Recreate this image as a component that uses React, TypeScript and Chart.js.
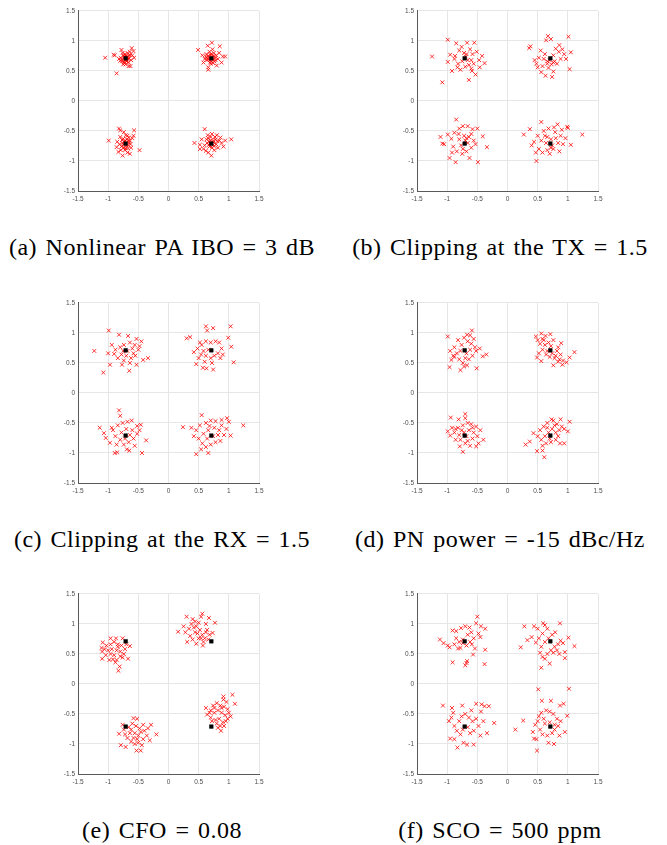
import React, { useEffect, useRef } from "react";
import { Chart, registerables } from "chart.js";

Chart.register(...registerables);

// ---- axis ticks ----
const tickValues: number[] = [-1.5, -1, -0.5, 0, 0.5, 1, 1.5];
const tickLabels: string[] = ["-1.5", "-1", "-0.5", "0", "0.5", "1", "1.5"];

// ---- ideal QPSK constellation (black squares) ----
const idealPoints: number[][] = [
  [-0.71, 0.71], [0.71, 0.71], [-0.71, -0.71], [0.71, -0.71],
];

// ---- captions ----
const captions: string[] = [
  "(a) Nonlinear PA IBO = 3 dB",
  "(b) Clipping at the TX = 1.5",
  "(c) Clipping at the RX = 1.5",
  "(d) PN power = -15 dBc/Hz",
  "(e) CFO = 0.08",
  "(f) SCO = 500 ppm",
];

// ---- received symbols (red crosses), one array per panel ----
const pointsA: number[][] = [
  [-1.05,0.72],[-0.86,0.46],[-0.91,0.77],[-0.89,0.76],[-0.78,0.85],[-0.61,0.88],[-0.58,0.83],[-0.57,0.72],[-0.63,0.58],[-0.66,0.58],
  [-0.75,0.61],[-0.80,0.67],[-0.76,0.80],[-0.72,0.78],[-0.68,0.80],[-0.65,0.75],[-0.70,0.66],[-0.73,0.72],[-0.67,0.69],[-0.74,0.65],
  [-0.62,0.68],[-0.79,0.72],[-0.69,0.74],[-0.75,0.76],[-0.66,0.64],[-0.71,0.61],[-0.82,0.70],[-0.60,0.76],[-0.77,0.69],[-0.64,0.82],
  [-0.70,0.70],[-0.72,0.68],[-0.68,0.73],[-0.74,0.74],[-0.66,0.71],[-0.71,0.75],[-0.69,0.67],[-0.77,0.66],[-0.64,0.77],[-0.73,0.63],
  [0.49,0.85],[0.65,0.92],[0.72,0.97],[0.85,0.91],[0.94,0.74],[0.90,0.74],[0.88,0.64],[0.80,0.59],[0.66,0.52],[0.66,0.56],
  [0.58,0.64],[0.60,0.70],[0.63,0.78],[0.68,0.82],[0.75,0.80],[0.79,0.76],[0.82,0.70],[0.76,0.66],[0.70,0.62],[0.64,0.68],
  [0.72,0.74],[0.67,0.72],[0.74,0.69],[0.69,0.77],[0.77,0.72],[0.62,0.74],[0.71,0.66],[0.84,0.80],[0.56,0.76],[0.73,0.86],
  [0.70,0.70],[0.68,0.68],[0.73,0.72],[0.66,0.75],[0.75,0.75],[0.71,0.78],[0.69,0.64],[0.78,0.68],[0.64,0.71],[0.74,0.63],
  [-0.99,-0.66],[-0.82,-0.46],[-0.80,-0.49],[-0.74,-0.52],[-0.57,-0.49],[-0.58,-0.58],[-0.60,-0.62],[-0.48,-0.82],[-0.64,-0.88],[-0.76,-0.91],
  [-0.83,-0.85],[-0.86,-0.77],[-0.85,-0.68],[-0.80,-0.60],[-0.75,-0.63],[-0.68,-0.58],[-0.66,-0.66],[-0.63,-0.72],[-0.67,-0.79],[-0.72,-0.82],
  [-0.78,-0.76],[-0.73,-0.68],[-0.70,-0.74],[-0.76,-0.70],[-0.69,-0.64],[-0.62,-0.78],[-0.79,-0.82],[-0.71,-0.57],[-0.65,-0.70],[-0.81,-0.72],
  [-0.74,-0.78],[-0.68,-0.86],[-0.70,-0.70],[-0.72,-0.66],[-0.67,-0.74],[-0.75,-0.73],[-0.64,-0.66],[-0.77,-0.65],[-0.71,-0.79],[-0.66,-0.61],
  [0.43,-0.70],[0.60,-0.47],[1.04,-0.64],[0.91,-0.76],[0.71,-0.91],[0.62,-0.83],[0.58,-0.80],[0.52,-0.73],[0.55,-0.64],[0.65,-0.57],
  [0.72,-0.55],[0.80,-0.57],[0.86,-0.61],[0.88,-0.70],[0.82,-0.78],[0.76,-0.82],[0.68,-0.76],[0.64,-0.70],[0.70,-0.66],[0.75,-0.69],
  [0.78,-0.64],[0.66,-0.62],[0.73,-0.74],[0.69,-0.70],[0.60,-0.74],[0.84,-0.66],[0.77,-0.60],[0.66,-0.86],[0.52,-0.80],[0.94,-0.66],
  [0.71,-0.71],[0.68,-0.67],[0.74,-0.66],[0.67,-0.73],[0.72,-0.78],[0.79,-0.72],[0.63,-0.64],[0.76,-0.75],[0.70,-0.60],[0.81,-0.67],
];

const pointsB: number[][] = [
  [-1.25,0.74],[-1.08,0.31],[-0.99,1.02],[-0.85,0.96],[-0.67,0.97],[-0.55,0.97],[-0.42,0.75],[-0.38,0.63],[-0.53,0.44],[-0.64,0.35],
  [-0.92,0.50],[-0.99,0.65],[-0.95,0.77],[-0.87,0.75],[-0.80,0.84],[-0.72,0.80],[-0.62,0.86],[-0.58,0.78],[-0.66,0.68],[-0.75,0.66],
  [-0.82,0.62],[-0.78,0.52],[-0.70,0.57],[-0.60,0.54],[-0.56,0.62],[-0.47,0.68],[-0.51,0.82],[-0.88,0.70],[-0.69,0.74],[-0.59,0.50],
  [-0.46,0.56],[-0.76,0.90],[-0.64,0.60],[-0.83,0.56],[-0.68,0.78],[-0.60,0.68],
  [0.36,0.88],[0.38,0.91],[0.64,1.01],[0.67,1.08],[0.72,1.03],[1.01,1.07],[1.05,0.81],[1.03,0.53],[0.76,0.49],[0.74,0.40],
  [0.63,0.42],[0.56,0.48],[0.48,0.62],[0.45,0.68],[0.55,0.84],[0.91,0.86],[0.85,0.82],[0.80,0.87],[0.76,0.76],[0.70,0.68],
  [0.66,0.62],[0.60,0.70],[0.52,0.72],[0.58,0.58],[0.68,0.55],[0.82,0.62],[0.88,0.70],[0.94,0.78],[0.78,0.66],[0.62,0.78],
  [0.50,0.56],[0.73,0.61],[0.86,0.93],[0.97,0.70],[0.66,0.66],[0.76,0.64],
  [-0.85,-0.31],[-1.11,-0.60],[-1.08,-0.71],[-1.05,-0.72],[-0.99,-0.56],[-0.96,-0.95],[-0.86,-1.02],[-0.63,-0.95],[-0.49,-1.02],[-0.34,-0.77],
  [-0.41,-0.59],[-0.50,-0.46],[-0.58,-0.47],[-0.66,-0.42],[-0.74,-0.42],[-0.80,-0.46],[-0.88,-0.53],[-0.93,-0.63],[-0.90,-0.76],[-0.84,-0.84],
  [-0.75,-0.88],[-0.68,-0.84],[-0.60,-0.78],[-0.56,-0.66],[-0.64,-0.60],[-0.72,-0.58],[-0.80,-0.64],[-0.77,-0.74],[-0.66,-0.70],[-0.70,-0.66],
  [-0.60,-0.55],[-0.53,-0.72],[-0.92,-0.86],[-0.81,-0.55],[-0.74,-0.80],[-0.68,-0.62],
  [0.27,-0.56],[0.37,-0.47],[0.56,-0.35],[0.48,-1.00],[1.05,-0.73],[1.24,-0.56],[0.99,-0.43],[1.00,-0.45],[0.83,-0.39],[0.77,-0.44],
  [0.68,-0.46],[0.60,-0.50],[0.50,-0.58],[0.44,-0.68],[0.40,-0.74],[0.52,-0.80],[0.58,-0.86],[0.66,-0.82],[0.76,-0.80],[0.86,-0.84],
  [0.92,-0.72],[0.96,-0.62],[0.88,-0.58],[0.80,-0.62],[0.72,-0.64],[0.64,-0.70],[0.56,-0.66],[0.62,-0.58],[0.74,-0.74],[0.84,-0.70],
  [0.70,-0.88],[0.90,-0.48],[0.47,-0.86],[0.79,-0.52],[0.66,-0.60],[0.72,-0.78],
];

const pointsC: number[][] = [
  [-1.23,0.70],[-1.08,0.34],[-0.99,1.04],[-0.82,0.97],[-0.67,0.95],[-0.53,0.90],[-0.45,0.86],[-0.34,0.58],[-0.42,0.55],[-0.53,0.47],
  [-0.65,0.37],[-0.77,0.47],[-0.97,0.47],[-1.00,0.66],[-0.94,0.80],[-0.88,0.72],[-0.80,0.76],[-0.74,0.80],[-0.64,0.84],[-0.56,0.80],
  [-0.50,0.72],[-0.58,0.66],[-0.62,0.58],[-0.70,0.62],[-0.78,0.64],[-0.84,0.58],[-0.74,0.54],[-0.64,0.50],[-0.55,0.62],[-0.90,0.65],
  [-0.68,0.70],[-0.48,0.78],[-0.60,0.74],[-0.75,0.70],
  [0.30,0.91],[0.36,0.93],[0.62,1.11],[0.64,1.04],[1.03,1.11],[0.99,0.92],[1.04,0.77],[1.08,0.51],[0.74,0.39],[0.63,0.41],
  [0.57,0.42],[0.46,0.48],[0.42,0.68],[0.48,0.74],[0.55,0.80],[0.62,0.86],[0.70,0.84],[0.78,0.86],[0.84,0.84],[0.88,0.74],
  [0.82,0.66],[0.76,0.62],[0.70,0.58],[0.62,0.62],[0.54,0.64],[0.50,0.58],[0.60,0.52],[0.72,0.50],[0.86,0.58],[0.66,0.72],
  [0.58,0.70],[0.90,0.64],[0.52,0.84],[0.74,1.08],
  [-0.82,-0.29],[-0.80,-0.38],[-1.14,-0.58],[-1.07,-0.67],[-1.04,-0.75],[-0.97,-0.83],[-0.89,-1.00],[-0.85,-0.99],[-0.65,-0.96],[-0.44,-1.00],
  [-0.37,-0.79],[-0.46,-0.53],[-0.52,-0.55],[-0.61,-0.46],[-0.68,-0.48],[-0.76,-0.50],[-0.84,-0.54],[-0.92,-0.62],[-0.88,-0.72],[-0.80,-0.78],
  [-0.74,-0.86],[-0.66,-0.82],[-0.58,-0.76],[-0.52,-0.68],[-0.60,-0.62],[-0.70,-0.60],[-0.78,-0.66],[-0.72,-0.76],[-0.64,-0.70],[-0.86,-0.86],
  [-0.56,-0.88],[-0.48,-0.62],[-0.94,-0.58],[-0.69,-0.94],
  [0.24,-0.57],[0.38,-0.58],[0.55,-0.37],[0.42,-0.72],[0.46,-1.02],[0.66,-1.00],[0.97,-0.42],[1.24,-0.54],[1.03,-0.71],[1.00,-0.48],
  [0.88,-0.45],[0.78,-0.47],[0.70,-0.46],[0.62,-0.50],[0.52,-0.54],[0.46,-0.62],[0.50,-0.76],[0.56,-0.84],[0.62,-0.90],[0.70,-0.86],
  [0.78,-0.82],[0.86,-0.80],[0.92,-0.70],[0.84,-0.62],[0.76,-0.58],[0.66,-0.62],[0.58,-0.68],[0.64,-0.76],[0.74,-0.72],[0.82,-0.70],
  [0.54,-0.94],[0.96,-0.60],[0.88,-0.54],[0.68,-0.55],
];

const pointsD: number[][] = [
  [-0.99,0.94],[-0.95,0.70],[-0.93,0.55],[-0.96,0.43],[-0.78,0.38],[-0.67,0.46],[-0.51,0.41],[-0.35,0.64],[-0.41,0.61],[-0.59,1.04],
  [-0.67,0.97],[-0.62,0.96],[-0.72,0.92],[-0.82,0.88],[-0.88,0.76],[-0.84,0.66],[-0.88,0.60],[-0.80,0.56],[-0.74,0.50],[-0.70,0.58],
  [-0.64,0.56],[-0.58,0.62],[-0.52,0.70],[-0.54,0.76],[-0.60,0.82],[-0.66,0.86],[-0.76,0.80],[-0.78,0.70],[-0.68,0.66],[-0.62,0.72],
  [-0.56,0.90],[-0.46,0.74],[-0.90,0.62],[-0.72,0.44],
  [0.47,0.94],[0.50,0.88],[0.56,0.99],[0.63,0.95],[0.71,0.98],[0.76,0.88],[0.89,0.83],[0.84,0.76],[1.11,0.68],[1.03,0.59],
  [0.98,0.51],[0.91,0.47],[0.76,0.46],[0.56,0.53],[0.49,0.59],[0.52,0.66],[0.58,0.72],[0.62,0.80],[0.68,0.84],[0.54,0.82],
  [0.60,0.88],[0.66,0.70],[0.74,0.66],[0.80,0.62],[0.86,0.56],[0.92,0.54],[0.84,0.52],[0.78,0.58],[0.70,0.60],[0.64,0.64],
  [0.82,0.70],[0.88,0.64],[0.58,0.90],[0.72,0.78],
  [-0.94,-0.41],[-0.81,-0.44],[-0.70,-0.35],[-0.70,-0.42],[-0.99,-0.64],[-0.92,-0.58],[-0.95,-0.71],[-0.86,-0.78],[-0.79,-0.89],[-0.74,-0.98],
  [-0.52,-0.89],[-0.40,-0.78],[-0.45,-0.62],[-0.52,-0.56],[-0.60,-0.52],[-0.66,-0.50],[-0.74,-0.54],[-0.82,-0.58],[-0.88,-0.66],[-0.80,-0.70],
  [-0.72,-0.66],[-0.64,-0.62],[-0.56,-0.66],[-0.50,-0.72],[-0.58,-0.76],[-0.66,-0.80],[-0.62,-0.88],[-0.70,-0.84],[-0.78,-0.78],[-0.86,-0.60],
  [-0.48,-0.84],[-0.68,-0.72],[-0.76,-0.62],[-0.58,-0.58],
  [0.30,-0.86],[0.37,-0.81],[0.43,-0.67],[0.49,-0.97],[0.58,-0.96],[0.61,-1.07],[0.73,-0.44],[0.76,-0.46],[0.88,-0.44],[1.03,-0.48],
  [1.00,-0.64],[0.94,-0.84],[0.87,-0.84],[0.80,-0.78],[0.72,-0.82],[0.64,-0.84],[0.56,-0.78],[0.50,-0.72],[0.54,-0.62],[0.60,-0.56],
  [0.66,-0.50],[0.82,-0.52],[0.90,-0.56],[0.94,-0.60],[0.86,-0.62],[0.80,-0.66],[0.74,-0.60],[0.68,-0.66],[0.62,-0.72],[0.70,-0.76],
  [0.84,-0.72],[0.58,-0.88],[0.78,-0.54],[0.66,-0.58],
];

const pointsE: number[][] = [
  [-1.09,0.69],[-1.11,0.60],[-1.10,0.54],[-1.10,0.42],[-0.96,0.76],[-0.87,0.76],[-0.76,0.76],[-0.64,0.63],[-0.67,0.42],[-0.81,0.29],
  [-0.83,0.22],[-0.92,0.41],[-1.03,0.64],[-1.00,0.56],[-0.96,0.66],[-0.90,0.70],[-0.84,0.66],[-0.78,0.64],[-0.72,0.58],[-0.74,0.50],
  [-0.80,0.46],[-0.86,0.40],[-0.90,0.48],[-0.96,0.50],[-1.04,0.48],[-0.86,0.56],[-0.94,0.58],[-0.80,0.54],[-0.70,0.66],[-0.88,0.36],
  [-0.98,0.40],[-0.76,0.44],[-1.06,0.58],[-0.84,0.62],
  [0.16,0.87],[0.30,1.12],[0.40,1.08],[0.56,1.17],[0.54,1.12],[0.67,1.10],[0.77,1.02],[0.73,0.85],[0.57,0.64],[0.46,0.67],
  [0.31,0.70],[0.25,0.96],[0.28,0.86],[0.34,0.92],[0.36,0.80],[0.40,0.74],[0.44,0.86],[0.46,0.96],[0.50,1.02],[0.52,0.90],
  [0.56,0.82],[0.60,0.76],[0.64,0.90],[0.62,1.00],[0.68,0.82],[0.50,0.76],[0.42,0.94],[0.38,1.00],[0.58,0.70],[0.66,0.74],
  [0.48,0.84],[0.54,0.76],[0.44,1.04],[0.62,0.86],
  [-0.79,-1.02],[-0.71,-1.05],[-0.76,-0.68],[-0.58,-0.57],[-0.52,-0.58],[-0.42,-0.68],[-0.29,-0.68],[-0.20,-0.84],[-0.31,-0.94],[-0.53,-1.11],
  [-0.46,-1.11],[-0.82,-0.83],[-0.74,-0.76],[-0.66,-0.72],[-0.60,-0.66],[-0.54,-0.70],[-0.48,-0.74],[-0.40,-0.78],[-0.36,-0.86],[-0.42,-0.92],
  [-0.50,-0.98],[-0.56,-1.00],[-0.62,-0.96],[-0.68,-0.90],[-0.64,-0.82],[-0.56,-0.82],[-0.50,-0.86],[-0.46,-0.80],[-0.58,-0.90],[-0.72,-0.84],
  [-0.34,-0.74],[-0.62,-0.76],[-0.44,-1.02],[-0.52,-0.92],
  [0.62,-0.40],[1.06,-0.18],[1.10,-0.33],[0.91,-0.21],[0.91,-0.26],[1.03,-0.54],[0.95,-0.62],[0.87,-0.78],[0.82,-0.73],[0.64,-0.51],
  [0.70,-0.44],[0.74,-0.36],[0.80,-0.32],[0.86,-0.36],[0.92,-0.38],[0.98,-0.42],[1.00,-0.48],[0.94,-0.52],[0.88,-0.48],[0.82,-0.44],
  [0.76,-0.48],[0.70,-0.56],[0.78,-0.60],[0.84,-0.58],[0.90,-0.64],[0.86,-0.70],[0.96,-0.30],[0.72,-0.62],[0.80,-0.66],[0.98,-0.58],
  [0.68,-0.48],[0.88,-0.40],[0.76,-0.40],[0.92,-0.70],
];

const pointsF: number[][] = [
  [-1.12,0.74],[-1.06,0.68],[-0.91,0.89],[-0.85,0.88],[-0.77,0.93],[-0.70,0.96],[-0.63,0.94],[-0.50,1.12],[-0.52,1.01],[-0.44,0.96],
  [-0.37,0.92],[-0.45,0.78],[-0.37,0.57],[-0.38,0.33],[-0.54,0.59],[-0.57,0.49],[-0.67,0.38],[-0.70,0.31],[-0.68,0.35],[-0.91,0.36],
  [-0.82,0.59],[-0.78,0.60],[-0.96,0.61],[-0.88,0.66],[-0.80,0.70],[-0.74,0.74],[-0.66,0.82],[-0.60,0.86],[-0.56,0.76],[-0.62,0.70],
  [-0.68,0.64],[-0.74,0.68],[-0.85,0.76],[-0.99,0.64],[-0.59,0.66],[-0.48,0.84],
  [0.22,0.61],[0.28,0.96],[0.33,0.73],[0.40,0.78],[0.44,0.96],[0.50,0.92],[0.59,1.01],[0.62,0.98],[0.66,0.92],[0.87,1.01],
  [0.79,0.86],[1.01,0.77],[1.11,0.63],[0.95,0.53],[0.95,0.43],[0.70,0.34],[0.56,0.27],[0.58,0.45],[0.62,0.42],[0.47,0.69],
  [0.52,0.76],[0.56,0.62],[0.54,0.52],[0.66,0.50],[0.72,0.56],[0.78,0.62],[0.84,0.66],[0.88,0.72],[0.92,0.68],[0.82,0.56],
  [0.76,0.52],[0.62,0.70],[0.68,0.76],[0.74,0.82],[0.58,0.84],[0.86,0.50],
  [-1.07,-0.36],[-0.92,-0.40],[-0.75,-0.36],[-0.52,-0.33],[-0.43,-0.34],[-0.38,-0.37],[-0.31,-0.37],[-0.22,-0.65],[-0.34,-0.82],[-0.45,-0.86],
  [-0.56,-1.01],[-0.67,-1.01],[-0.73,-0.98],[-0.83,-1.06],[-0.95,-0.91],[-0.88,-0.92],[-0.97,-0.62],[-0.93,-0.56],[-0.88,-0.70],[-0.84,-0.78],
  [-0.80,-0.62],[-0.76,-0.54],[-0.70,-0.50],[-0.64,-0.56],[-0.58,-0.62],[-0.52,-0.58],[-0.48,-0.70],[-0.56,-0.78],[-0.62,-0.82],[-0.66,-0.72],
  [-0.74,-0.76],[-0.78,-0.84],[-0.44,-0.46],[-0.60,-0.44],[-0.90,-0.48],[-0.40,-0.62],
  [0.13,-0.76],[0.26,-0.61],[0.51,-0.09],[1.02,-0.08],[0.57,-0.28],[0.72,-0.28],[0.93,-0.33],[0.87,-0.36],[0.99,-0.53],[0.95,-0.80],
  [0.77,-1.00],[0.68,-0.98],[0.49,-1.11],[0.44,-0.91],[0.48,-0.92],[0.42,-0.80],[0.46,-0.68],[0.52,-0.54],[0.56,-0.48],[0.64,-0.44],
  [0.70,-0.46],[0.76,-0.50],[0.82,-0.58],[0.88,-0.62],[0.84,-0.70],[0.78,-0.76],[0.74,-0.82],[0.66,-0.86],[0.58,-0.84],[0.54,-0.76],
  [0.62,-0.66],[0.70,-0.64],[0.78,-0.68],[0.60,-0.58],[0.86,-0.86],[0.50,-0.62],
];

const panelPoints: number[][][] = [pointsA, pointsB, pointsC, pointsD, pointsE, pointsF];

// ---- layout (pixels) ----
const PLOT = 181;
const Y_AXIS_W = 24;
const X_AXIS_H = 16;
const PAD_TOP = 6;
const PAD_RIGHT = 10;
const CANVAS_W = Y_AXIS_W + PLOT + PAD_RIGHT;
const CANVAS_H = PAD_TOP + PLOT + X_AXIS_H;
const colPlotLeft = [78, 417];
const rowPlotTop = [10, 302, 593];
const colCaptionCenter = [162, 500];
const captionBaselineOffset = 245;
const CAPTION_FS = 24;

const tickFont = { family: "Arial, 'Liberation Sans', sans-serif", size: 6.5 };

function labelFor(v: number): string {
  const i = tickValues.findIndex((t) => Math.abs(t - v) < 1e-9);
  return i >= 0 ? tickLabels[i] : "";
}

function Panel({ points, left, top }: { points: number[][]; left: number; top: number }) {
  const ref = useRef<HTMLCanvasElement | null>(null);
  useEffect(() => {
    if (!ref.current) return;
    const axisCommon = {
      type: "linear" as const,
      min: -1.5,
      max: 1.5,
      afterBuildTicks: (s: any) => {
        s.ticks = tickValues.map((v) => ({ value: v }));
      },
      grid: { color: "#e6e6e6", lineWidth: 1, drawTicks: false },
      border: { display: true, color: "#5a5a5a", width: 1 },
    };
    const chart = new Chart(ref.current, {
      type: "scatter",
      data: {
        datasets: [
          {
            data: idealPoints.map(([x, y]) => ({ x, y })),
            pointStyle: "rect",
            pointRadius: 2.6,
            backgroundColor: "#000000",
            borderColor: "#000000",
            borderWidth: 0.5,
          },
          {
            data: points.map(([x, y]) => ({ x, y })),
            pointStyle: "crossRot",
            pointRadius: 2.7,
            borderColor: "#ff0000",
            backgroundColor: "#ff0000",
            borderWidth: 0.8,
          },
        ],
      },
      options: {
        responsive: false,
        animation: false,
        events: [],
        layout: { padding: { top: PAD_TOP, right: PAD_RIGHT, left: 0, bottom: 0 } },
        plugins: { legend: { display: false }, tooltip: { enabled: false } },
        scales: {
          x: {
            ...axisCommon,
            afterFit: (s: any) => {
              s.height = X_AXIS_H;
            },
            ticks: {
              padding: 4,
              font: tickFont,
              color: "#4d4d4d",
              maxRotation: 0,
              autoSkip: false,
              callback: (v: any) => labelFor(Number(v)),
            },
          },
          y: {
            ...axisCommon,
            afterFit: (s: any) => {
              s.width = Y_AXIS_W;
            },
            ticks: {
              padding: 3,
              font: tickFont,
              color: "#4d4d4d",
              autoSkip: false,
              callback: (v: any) => labelFor(Number(v)),
            },
          },
        },
      },
    } as any);
    return () => chart.destroy();
  }, [points]);
  return (
    <canvas
      ref={ref}
      width={CANVAS_W}
      height={CANVAS_H}
      style={{
        position: "absolute",
        left: left - Y_AXIS_W,
        top: top - PAD_TOP,
        width: CANVAS_W,
        height: CANVAS_H,
      }}
    />
  );
}

export default function App() {
  return (
    <div
      style={{
        position: "absolute",
        left: 0,
        top: 0,
        width: 667,
        height: 845,
        background: "#ffffff",
        overflow: "hidden",
      }}
    >
      {panelPoints.map((pts, i) => {
        const col = i % 2;
        const row = Math.floor(i / 2);
        return <Panel key={"p" + i} points={pts} left={colPlotLeft[col]} top={rowPlotTop[row]} />;
      })}
      {captions.map((c, i) => {
        const col = i % 2;
        const row = Math.floor(i / 2);
        const baseline = rowPlotTop[row] + captionBaselineOffset;
        return (
          <div
            key={"c" + i}
            style={{
              position: "absolute",
              left: colCaptionCenter[col] - 200,
              width: 400,
              top: baseline - Math.round(0.891 * CAPTION_FS),
              textAlign: "center",
              fontFamily: "'Times New Roman', Times, serif",
              fontSize: CAPTION_FS,
              letterSpacing: 0.5,
              wordSpacing: 2,
              lineHeight: "normal",
              color: "#000",
              whiteSpace: "nowrap",
            }}
          >
            {c}
          </div>
        );
      })}
    </div>
  );
}
